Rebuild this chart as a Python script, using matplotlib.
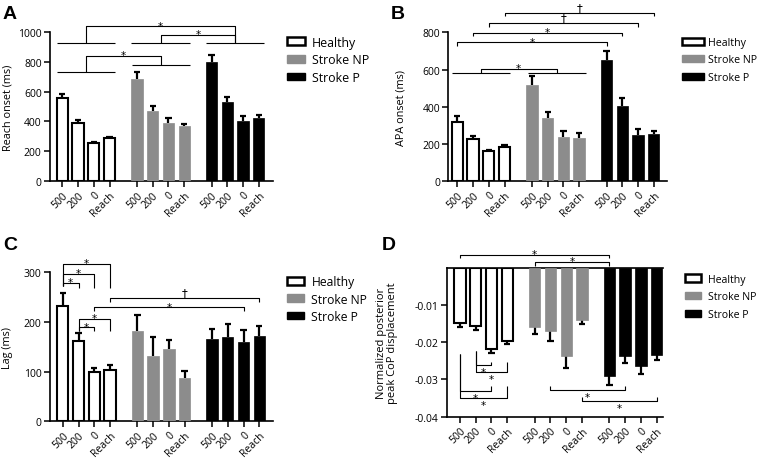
import matplotlib
matplotlib.use('Agg')
import matplotlib.pyplot as plt
from matplotlib.patches import Patch
from matplotlib.transforms import offset_copy, ScaledTranslation
import numpy as np

plt.rcParams['font.family'] = ['Open Sans', 'DejaVu Sans']
plt.rcParams['axes.unicode_minus'] = False

# ---------------- data ----------------
conditions = ['500', '200', '0', 'Reach']
groups = ['Healthy', 'Stroke NP', 'Stroke P']

# A: reach onset (ms)
reach_healthy = [555, 390, 258, 287]
reach_healthy_sem = [28, 17, 8, 8]
reach_np = [684, 468, 390, 370]
reach_np_sem = [44, 33, 33, 15]
reach_p = [795, 532, 403, 425]
reach_p_sem = [49, 34, 36, 18]

# B: APA onset (ms)
apa_healthy = [318, 227, 161, 186]
apa_healthy_sem = [31, 16, 9, 11]
apa_np = [517, 338, 240, 234]
apa_np_sem = [47, 36, 30, 25]
apa_p = [653, 406, 249, 252]
apa_p_sem = [48, 39, 30, 20]

# C: lag (ms)
lag_healthy = [233, 162, 99, 103]
lag_healthy_sem = [25, 15, 9, 10]
lag_np = [181, 131, 146, 88]
lag_np_sem = [33, 39, 18, 13]
lag_p = [166, 170, 160, 172]
lag_p_sem = [20, 25, 23, 19]

# D: normalized posterior peak CoP displacement
cop_healthy = [-0.0149, -0.0156, -0.0218, -0.0196]
cop_healthy_sem = [0.0010, 0.0010, 0.0011, 0.0009]
cop_np = [-0.0159, -0.0169, -0.0238, -0.0140]
cop_np_sem = [0.0019, 0.0027, 0.0032, 0.0011]
cop_p = [-0.0290, -0.0236, -0.0265, -0.0234]
cop_p_sem = [0.0025, 0.0020, 0.0020, 0.0014]

# ---------------- style ----------------
GREY = '#8c8c8c'
face_colors = ['white', GREY, 'black']
edge_colors = ['black', GREY, 'black']
group_offsets = [0.0, 4.74, 9.48]
BAR_W = 0.72
CAP = 0.2
LW_SPINE = 1.2

fig = plt.figure(figsize=(7.6, 4.6), dpi=100)
W, H = 760.0, 460.0


def add_axes(left, top, right, bottom):
    return fig.add_axes([left / W, 1 - bottom / H, (right - left) / W, (bottom - top) / H])


def xpos(g, c):
    return group_offsets[g] + c


def gcenter(g):
    return group_offsets[g] + 1.5


def draw_bars(ax, means, sems, negative=False):
    for g in range(3):
        xs = group_offsets[g] + np.arange(4)
        m = np.array(means[g])
        s = np.array(sems[g])
        end = m - s if negative else m + s
        ax.vlines(xs, m, end, color='black', lw=1.6, zorder=2)
        ax.hlines(end, xs - CAP, xs + CAP, color='black', lw=1.6, zorder=2)
        ax.bar(xs, m, width=BAR_W, color=face_colors[g], edgecolor=edge_colors[g],
               linewidth=1.5 if g == 0 else 0.5, zorder=3)


def style_axes(ax, xlim, ylim, yticks, yticklabels=None):
    ax.set_xlim(*xlim)
    ax.set_ylim(*ylim)
    xs = [xpos(g, c) for g in range(3) for c in range(4)]
    ax.set_xticks(xs)
    ax.set_xticklabels(conditions * 3, rotation=45, ha='right', va='top',
                       rotation_mode='anchor', fontsize=7.5)
    for lab in ax.get_xticklabels():
        lab.set_transform(lab.get_transform() + ScaledTranslation(3 / 72, 0, fig.dpi_scale_trans))
    ax.set_yticks(yticks)
    if yticklabels is not None:
        ax.set_yticklabels(yticklabels)
    ax.tick_params(axis='both', direction='out', length=4, width=1.1, labelsize=7.5, pad=2)
    for sp in ['right', 'top']:
        ax.spines[sp].set_visible(False)
    for sp in ['left', 'bottom']:
        ax.spines[sp].set_linewidth(LW_SPINE)


def line(ax, xs, ys, lw=0.8):
    ax.plot(xs, ys, color='black', lw=lw, clip_on=False, solid_capstyle='butt', zorder=5)


def bracket(ax, x1, x2, y, y1_end, y2_end):
    line(ax, [x1, x1, x2, x2], [y1_end, y, y, y2_end])


def mark(ax, x, y, s, above=True):
    if s == '*':
        if above:
            tr = offset_copy(ax.transData, fig=fig, x=0, y=-1.6, units='points')
            ax.text(x, y, s, ha='center', va='baseline', transform=tr, fontsize=7.5,
                    family='DejaVu Sans', clip_on=False, zorder=6)
        else:
            tr = offset_copy(ax.transData, fig=fig, x=0, y=-1.2, units='points')
            ax.text(x, y, s, ha='center', va='top', transform=tr, fontsize=7.5,
                    family='DejaVu Sans', clip_on=False, zorder=6)
    else:
        tr = offset_copy(ax.transData, fig=fig, x=0, y=-0.8, units='points')
        ax.text(x, y, s, ha='center', va='bottom', transform=tr, fontsize=8.5,
                family='DejaVu Sans', clip_on=False, zorder=6)


def legend(ax, px, py, fs, hl, tp, ls):
    handles = [Patch(facecolor='white', edgecolor='black', linewidth=1.8),
               Patch(facecolor=GREY, edgecolor=GREY),
               Patch(facecolor='black', edgecolor='black')]
    ax.legend(handles, groups, loc='center left', bbox_to_anchor=(px / W, 1 - py / H),
              bbox_transform=fig.transFigure, frameon=False, fontsize=fs,
              handlelength=hl, handleheight=0.58 * 8.7 / fs, handletextpad=tp,
              labelspacing=ls, borderpad=0, borderaxespad=0)


def panel_letter(px, py, s):
    fig.text(px / W, 1 - py / H, s, fontsize=14, fontweight='bold',
             family=['Liberation Sans', 'DejaVu Sans'], ha='left', va='top')


# ---------------- Panel A ----------------
axA = add_axes(50, 32.7, 273, 182.3)
draw_bars(axA, [reach_healthy, reach_np, reach_p], [reach_healthy_sem, reach_np_sem, reach_p_sem])
style_axes(axA, (-0.78, 13.38), (0, 1000), [0, 200, 400, 600, 800, 1000])
axA.set_ylabel('Reach onset (ms)', fontsize=7.8)
axA.yaxis.set_label_coords(-0.165, 0.5)
for g in range(3):
    line(axA, [xpos(g, 0) - 0.36, xpos(g, 3) + 0.36], [922, 922])
bracket(axA, gcenter(0), gcenter(2), 1035, 922, 922)
mark(axA, (gcenter(0) + gcenter(2)) / 2, 1035, '*')
bracket(axA, gcenter(1), gcenter(2), 979, 922, 922)
mark(axA, (gcenter(1) + gcenter(2)) / 2, 979, '*')
line(axA, [xpos(0, 0) - 0.36, xpos(0, 3) + 0.36], [728, 728])
line(axA, [xpos(1, 0) - 0.33, xpos(1, 3) + 0.37], [777, 777])
bracket(axA, gcenter(0), gcenter(1), 839, 728, 777)
mark(axA, (gcenter(0) + gcenter(1)) / 2, 839, '*')
legend(axA, 287, 60.7, 8.9, 1.42, 0.6, 0.38)
panel_letter(3, 6, 'A')

# ---------------- Panel B ----------------
axB = add_axes(448.3, 33.3, 666.7, 182.3)
draw_bars(axB, [apa_healthy, apa_np, apa_p], [apa_healthy_sem, apa_np_sem, apa_p_sem])
style_axes(axB, (-0.57, 13.3), (0, 800), [0, 200, 400, 600, 800])
axB.set_ylabel('APA onset (ms)', fontsize=7.8)
axB.yaxis.set_label_coords(-0.19, 0.5)
b_levels = [746, 796, 848, 904]
b_marks = ['*', '*', '†', '†']
for c in range(4):
    y = b_levels[c]
    bracket(axB, xpos(0, c), xpos(2, c), y, y - 17, y - 17)
    mark(axB, (xpos(0, c) + xpos(2, c)) / 2, y, b_marks[c])
line(axB, [xpos(0, 0) - 0.32, xpos(0, 3) + 0.36], [580, 580])
line(axB, [xpos(1, 0) - 0.28, xpos(1, 3) + 0.41], [580, 580])
bracket(axB, gcenter(0), gcenter(1) + 0.1, 603, 580, 580)
mark(axB, (gcenter(0) + gcenter(1)) / 2, 603, '*')
legend(axB, 682, 61, 7.7, 2.1, 0.35, 0.62)
panel_letter(391, 6, 'B')

# ---------------- Panel C ----------------
axC = add_axes(50, 273.3, 273.3, 422.3)
draw_bars(axC, [lag_healthy, lag_np, lag_p], [lag_healthy_sem, lag_np_sem, lag_p_sem])
style_axes(axC, (-0.81, 13.37), (0, 300), [0, 100, 200, 300])
axC.set_ylabel('Lag (ms)', fontsize=7.8)
axC.yaxis.set_label_coords(-0.165, 0.5)
for c_to, y in zip([1, 2, 3], [278, 297, 317]):
    bracket(axC, xpos(0, 0), xpos(0, c_to), y, 272, 269)
    mark(axC, (xpos(0, 0) + xpos(0, c_to)) / 2, y, '*')
for c_to, y in zip([2, 3], [189, 206]):
    bracket(axC, xpos(0, 1), xpos(0, c_to), y, 182, 182)
    mark(axC, (xpos(0, 1) + xpos(0, c_to)) / 2, y, '*')
bracket(axC, xpos(0, 2), xpos(2, 2), 229.5, 222, 222)
mark(axC, (xpos(0, 2) + xpos(2, 2)) / 2, 229.5, '*')
bracket(axC, xpos(0, 3), xpos(2, 3), 247.6, 241, 241)
mark(axC, (xpos(0, 3) + xpos(2, 3)) / 2, 247.6, '†')
legend(axC, 287, 300, 8.7, 1.42, 0.6, 0.35)
panel_letter(3, 237, 'C')

# ---------------- Panel D ----------------
axD = add_axes(446.7, 268.7, 663.3, 417.7)
draw_bars(axD, [cop_healthy, cop_np, cop_p], [cop_healthy_sem, cop_np_sem, cop_p_sem], negative=True)
style_axes(axD, (-0.84, 12.9), (-0.04, 0), [-0.04, -0.03, -0.02, -0.01],
           ['-0.04', '-0.03', '-0.02', '-0.01'])
axD.spines['top'].set_visible(True)
axD.spines['top'].set_linewidth(LW_SPINE)
axD.set_ylabel('Normalized posterior\npeak CoP displacement', fontsize=8, linespacing=1.0)
axD.yaxis.set_label_coords(-0.225, 0.5)
# top brackets
bracket(axD, xpos(0, 0), xpos(2, 0), 0.0035, 0.0026, 0.0026)
mark(axD, (xpos(0, 0) + xpos(2, 0)) / 2, 0.0035, '*')
bracket(axD, xpos(1, 0), xpos(2, 0), 0.0016, 0.0005, 0.0005)
mark(axD, (xpos(1, 0) + xpos(2, 0)) / 2, 0.0016, '*')
# lower (inverted) brackets within healthy
for c_from, top_l, pairs in [(0, -0.0232, [(2, -0.0331), (3, -0.0350)]),
                              (1, -0.0224, [(2, -0.0261), (3, -0.0280)])]:
    for c_to, y in pairs:
        right_top = -0.0318 if c_from == 0 else -0.0253
        bracket(axD, xpos(0, c_from), xpos(0, c_to), y, top_l, right_top)
        mark(axD, (xpos(0, c_from) + xpos(0, c_to)) / 2, y, '*', above=False)
bracket(axD, xpos(1, 1), xpos(2, 1), -0.0328, -0.0318, -0.0318)
mark(axD, (xpos(1, 1) + xpos(2, 1)) / 2, -0.0328, '*', above=False)
bracket(axD, xpos(1, 3), xpos(2, 3), -0.0358, -0.0347, -0.0347)
mark(axD, (xpos(1, 3) + xpos(2, 3)) / 2, -0.0358, '*', above=False)
legend(axD, 685, 298, 7.6, 1.55, 0.6, 0.65)
panel_letter(382, 237, 'D')

fig.savefig('out.png', dpi=100)
